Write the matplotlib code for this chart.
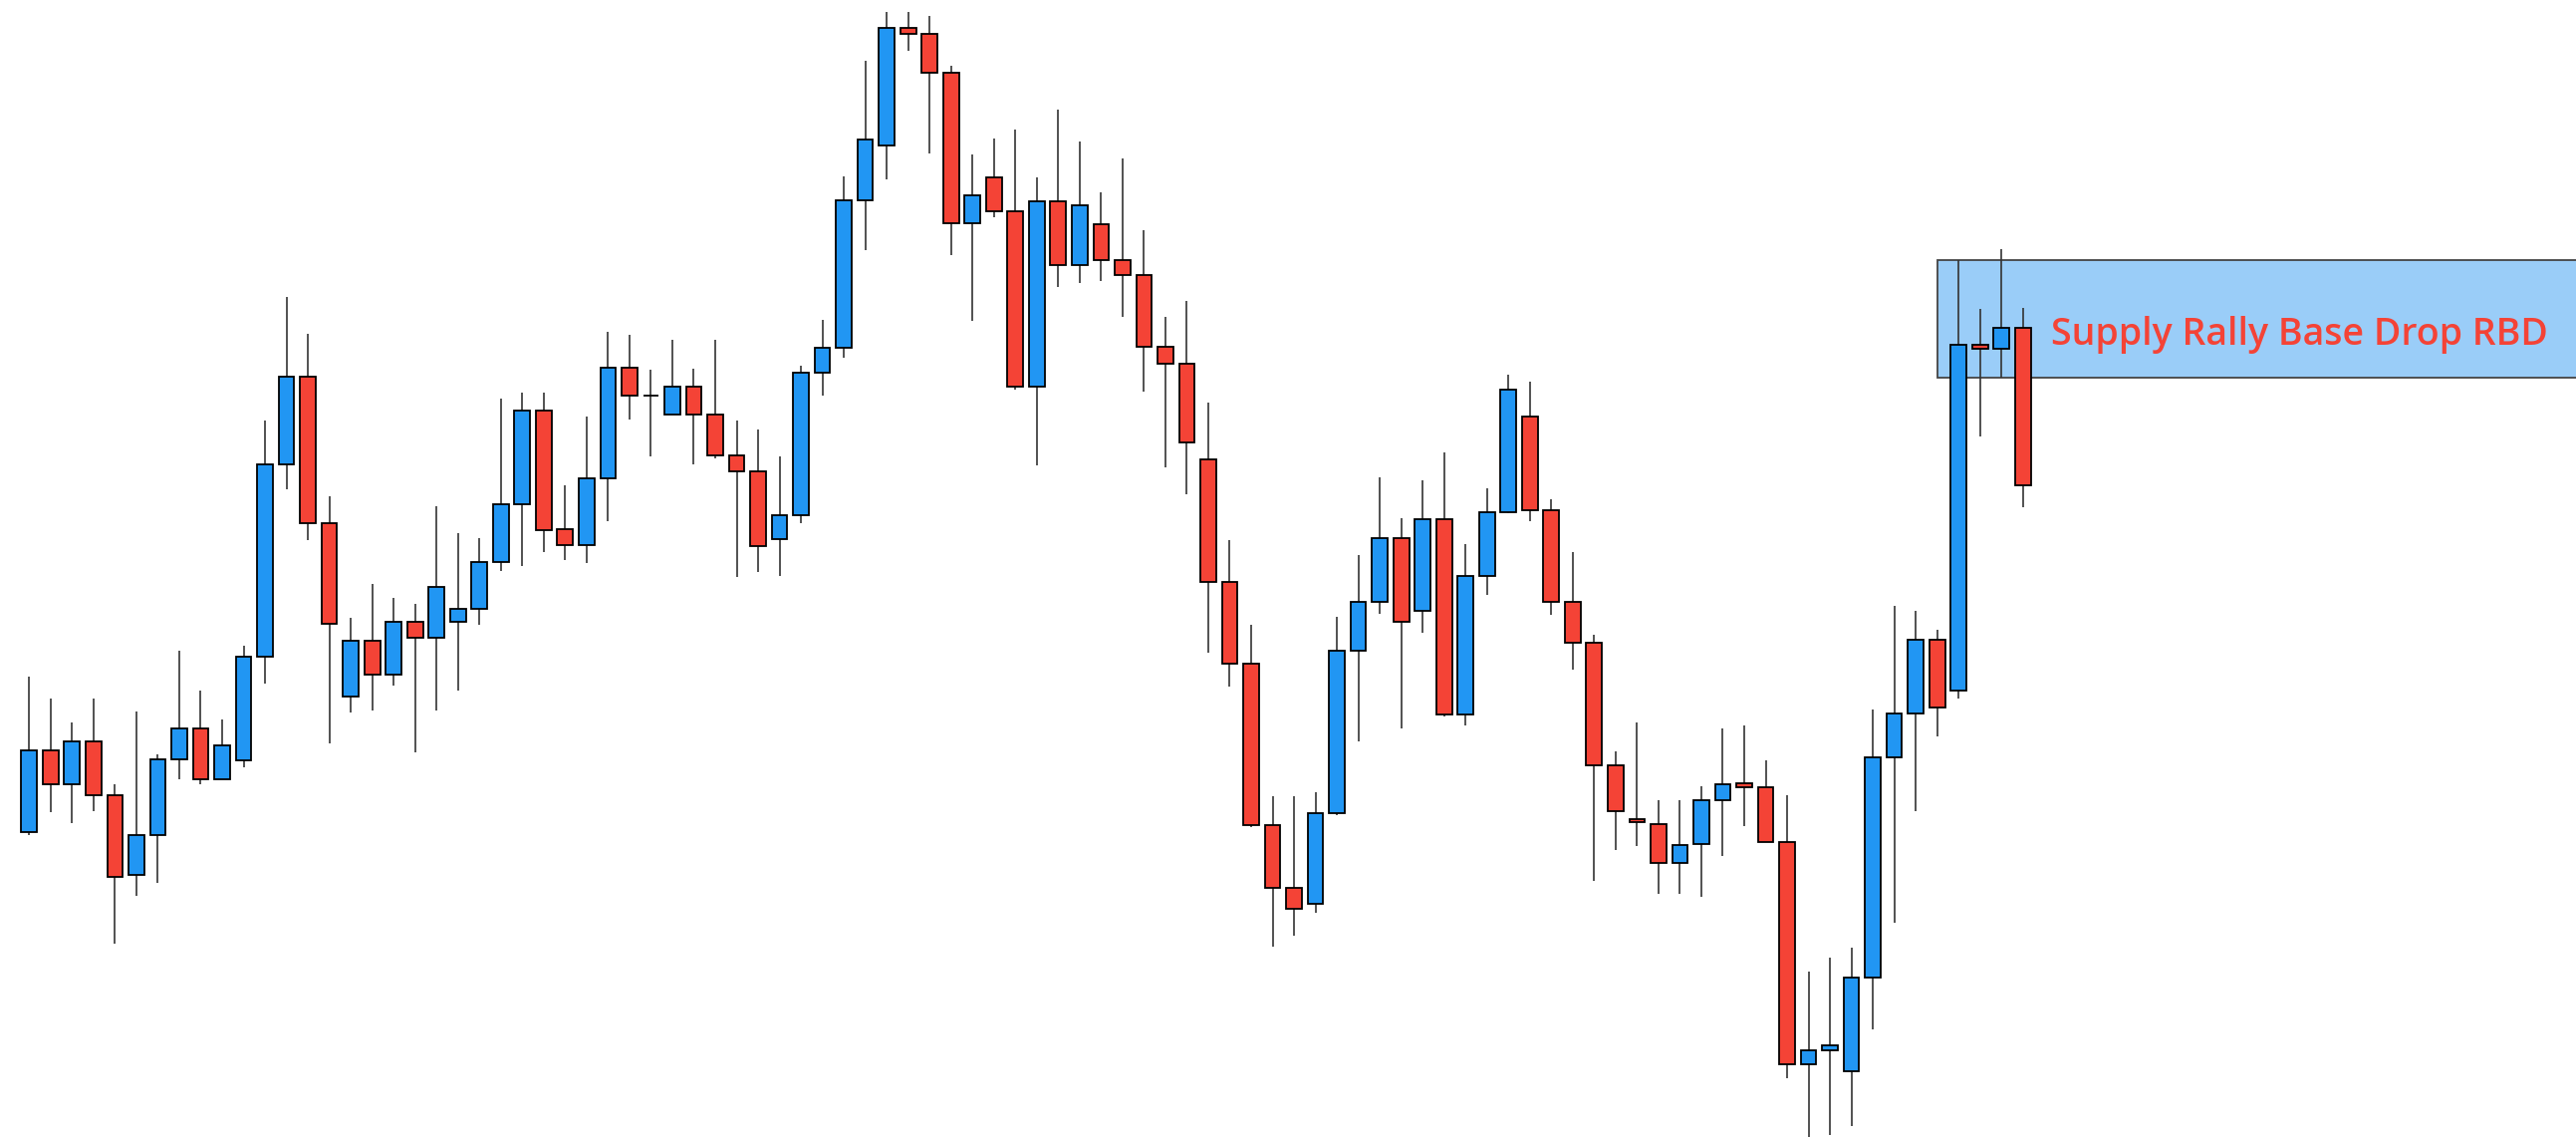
import numpy as np
import matplotlib
matplotlib.use('Agg')
from matplotlib import pyplot as plt
from matplotlib.patches import Rectangle

# candle data (arbitrary price units, one candle per session)
opens = [421, 533, 487, 545, 472, 362, 417, 521, 564, 493,
         519, 663, 927, 1048, 846, 607, 685, 637, 711, 688,
         710, 728, 793, 873, 1002, 838, 816, 909, 1061, 1023,
         997, 1035, 997, 940, 918, 825, 857, 1054, 1088, 1292,
         1368, 1529, 1521, 1468, 1260, 1324, 1277, 1035, 1291, 1203,
         1259, 1210, 1189, 1090, 1067, 935, 765, 653, 430, 344,
         321, 446, 671, 738, 826, 726, 852, 583, 774, 862,
         993, 864, 738, 681, 513, 438, 432, 378, 404, 465,
         488, 483, 407, 100, 119, 91, 220, 523, 584, 686,
         616, 1093, 1087, 1116]
highs = [635, 604, 571, 604, 487, 587, 528, 671, 616, 576,
         678, 988, 1158, 1108, 883, 716, 763, 743, 735, 870,
         833, 826, 1018, 1027, 1027, 899, 994, 1111, 1106, 1058,
         1099, 1060, 1099, 988, 976, 939, 1063, 1127, 1325, 1484,
         1552, 1552, 1546, 1477, 1355, 1377, 1389, 1324, 1417, 1373,
         1303, 1350, 1251, 1131, 1153, 1013, 823, 706, 470, 470,
         476, 718, 803, 910, 854, 905, 944, 818, 894, 1051,
         1041, 879, 807, 693, 532, 571, 464, 464, 484, 563,
         568, 519, 471, 228, 248, 261, 590, 732, 726, 700,
         1210, 1142, 1225, 1144]
lows = [416, 448, 433, 450, 267, 332, 350, 493, 486, 493,
        510, 625, 893, 823, 543, 586, 588, 622, 530, 588,
        616, 706, 781, 788, 807, 795, 792, 849, 989, 938,
        997, 928, 936, 772, 779, 774, 847, 1022, 1074, 1223,
        1320, 1498, 1357, 1216, 1126, 1268, 1030, 926, 1172, 1178,
        1181, 1131, 1028, 924, 886, 668, 621, 427, 263, 278,
        309, 444, 545, 722, 564, 695, 580, 567, 747, 860,
        849, 720, 645, 353, 396, 401, 336, 336, 331, 388,
        429, 407, 81, 0, 3, 15, 149, 295, 450, 553,
        605, 966, 1047, 868]
closes = [533, 487, 545, 472, 359, 417, 521, 564, 493, 540,
          663, 927, 1048, 846, 708, 685, 637, 711, 688, 758,
          728, 793, 873, 1002, 837, 816, 909, 1061, 1023, 1023,
          1035, 997, 940, 918, 815, 857, 1054, 1088, 1292, 1375,
          1529, 1521, 1468, 1260, 1298, 1277, 1035, 1291, 1203, 1285,
          1210, 1189, 1090, 1067, 958, 765, 653, 430, 344, 315,
          446, 671, 738, 826, 710, 852, 583, 774, 862, 1030,
          864, 738, 681, 513, 449, 434, 378, 403, 465, 486,
          483, 407, 100, 119, 127, 220, 523, 584, 686, 592,
          1093, 1087, 1116, 899]

zone_start = 89
zone_low = 1047
zone_high = 1210
zone_label = 'Supply Rally Base Drop RBD'

BULL = '#2196f3'
BEAR = '#f44336'

def main():
  o = np.array(opens, dtype=float)
  h = np.array(highs, dtype=float)
  l = np.array(lows, dtype=float)
  c = np.array(closes, dtype=float)
  x = np.arange(len(o))

  fig = plt.figure(figsize=(25.86, 11.41), dpi=100)
  ax = fig.add_axes([0, 0, 1, 1])
  ax.set_axis_off()

  # supply zone
  ax.add_patch(Rectangle((zone_start, zone_low), 200, zone_high - zone_low,
                         facecolor='#9acdf8', edgecolor='#444444', lw=1.3, zorder=1))
  ax.text(94.3, 1092, zone_label, color=BEAR, fontsize=27, family='Open Sans',
          fontweight='semibold', va='baseline', ha='left', zorder=5)

  # wicks
  ax.vlines(x, l, h, color='#333333', lw=1.2, zorder=2)

  # bodies
  cols = [BULL if cc > oo else BEAR for oo, cc in zip(o, c)]
  ax.bar(x, c - o, bottom=o, width=0.73, color=cols, edgecolor='black',
         lw=1.3, zorder=3)

  ax.set_xlim(-1.362, 118.8)
  ax.set_ylim(0, 1568)
  fig.savefig('out.png', dpi=100, facecolor='white')
  plt.close()

if __name__ == '__main__':
  main()
